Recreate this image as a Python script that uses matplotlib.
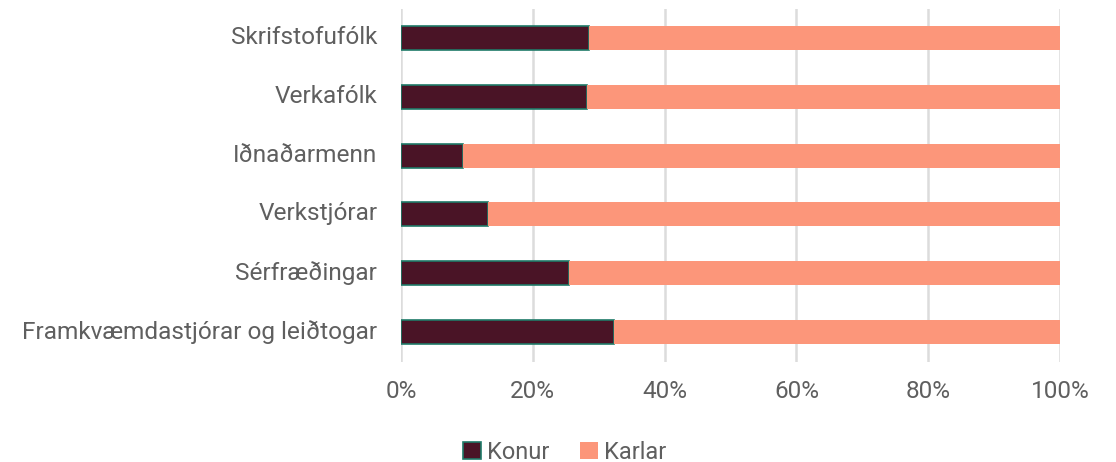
import matplotlib
matplotlib.use("Agg")
import matplotlib.pyplot as plt
import matplotlib.transforms as mtransforms
import numpy as np

# Data (top to bottom as shown)
categories = ["Skrifstofufólk", "Verkafólk", "Iðnaðarmenn", "Verkstjórar",
              "Sérfræðingar", "Framkvæmdastjórar og leiðtogar"]
konur = [28.5, 28.2, 9.4, 13.2, 25.5, 32.3]
karlar = [100 - k for k in konur]
xticks = [0, 20, 40, 60, 80, 100]
xticklabels = ["0%", "20%", "40%", "60%", "80%", "100%"]

plt.rcParams['font.family'] = ['Roboto', 'DejaVu Sans']
text_color = "#5f5f5f"

fig = plt.figure(figsize=(11.16, 4.62), dpi=100)
ax = fig.add_axes([0.3593, 0.2175, 0.5905, 0.7641])

y = np.arange(len(categories))
ax.barh(y, konur, height=0.41, color="#4a1426", edgecolor="#1f7a68",
        linewidth=1.2, label="Konur", zorder=3)
ax.barh(y, karlar, left=konur, height=0.41, color="#fc967a",
        label="Karlar", zorder=3)

ax.set_ylim(len(categories) - 0.5, -0.5)
ax.set_xlim(0, 100)
ax.set_yticks(y)
ax.set_yticklabels(categories, fontsize=17.6, color=text_color)
ax.set_xticks(xticks)
ax.set_xticklabels(xticklabels, fontsize=17.5, color=text_color)
ax.tick_params(length=0)
ax.tick_params(axis="x", pad=13)
ax.tick_params(axis="y", pad=17)

# nudge category labels up a little
shift = mtransforms.ScaledTranslation(0, 3 / 100, fig.dpi_scale_trans)
for lbl in ax.get_yticklabels():
    lbl.set_transform(lbl.get_transform() + shift)

ax.grid(axis="x", color="#dcdcdc", linewidth=1.8, zorder=0)
for s in ax.spines.values():
    s.set_visible(False)

fig.legend(loc="lower center", bbox_to_anchor=(0.506, -0.05), ncol=2,
           frameon=False, fontsize=17, handlelength=0.75, handleheight=0.75,
           handletextpad=0.25, columnspacing=1.3, labelcolor=text_color)

fig.savefig("out.png", dpi=100)
